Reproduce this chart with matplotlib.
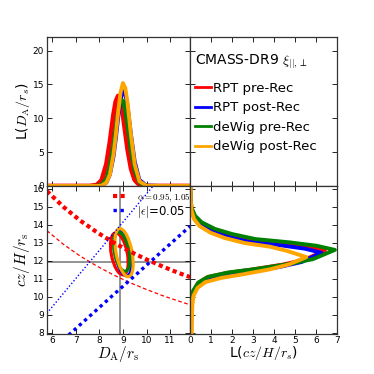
import numpy as np
import matplotlib
matplotlib.use('Agg')
import matplotlib.pyplot as plt
from matplotlib.patches import Ellipse

plt.rcParams['mathtext.fontset'] = 'cm'

# series names and colours
labels = ['RPT pre-Rec', 'RPT post-Rec', 'deWig pre-Rec', 'deWig post-Rec']
colors = ['red', 'blue', 'green', 'orange']

# fiducial values (grey cross)
da_fid = 8.86
hz_fid = 11.94

# 1D likelihood of D_A/r_s (top left panel)
da_grid = [5.78, 7.0, 7.6, 7.9, 8.1, 8.3, 8.45, 8.6, 8.7, 8.8, 8.9, 9.0,
           9.1, 9.2, 9.35, 9.5, 9.7, 10.0, 10.6, 11.85]
L_da_rpt_pre = [0, 0, 0, 0.15, 0.85, 3.2, 6.5, 10.5, 12.5, 13.3, 12.5, 10.6,
                8.0, 5.4, 2.5, 0.9, 0.15, 0, 0, 0]
L_da_rpt_post = [0, 0, 0, 0, 0.08, 0.5, 1.7, 4.3, 7.0, 10.1, 12.7, 14.0,
                 13.7, 11.7, 7.4, 3.6, 0.9, 0.05, 0, 0]
L_da_dw_pre = [0, 0, 0, 0.03, 0.2, 1.1, 3.0, 6.2, 8.8, 11.2, 12.6, 12.6,
               11.2, 8.8, 5.0, 2.2, 0.5, 0.03, 0, 0]
L_da_dw_post = [0, 0, 0, 0, 0.06, 0.5, 1.7, 4.6, 7.5, 10.9, 13.8, 15.2,
                14.5, 12.2, 7.3, 3.2, 0.7, 0.03, 0, 0]

# 1D likelihood of cz/H/r_s (bottom right panel)
hz_rpt_pre = [7.95, 9.0, 9.74, 10.29, 10.75, 11.07, 11.31, 11.5, 11.78, 12.05,
              12.56, 12.79, 12.98, 13.16, 13.44, 13.72, 14.09, 14.46, 14.92,
              15.46, 16.15]
L_hz_rpt_pre = [0.05, 0.06, 0.08, 0.15, 0.37, 0.8, 1.7, 2.9, 4.4, 5.45, 6.42,
                5.6, 4.4, 2.9, 1.86, 1.1, 0.5, 0.21, 0.06, 0.02, 0.0]
hz_rpt_post = [7.95, 9.0, 9.62, 10.17, 10.63, 10.95, 11.19, 11.38, 11.66,
               11.93, 12.44, 12.67, 12.86, 13.04, 13.32, 13.6, 13.97, 14.34,
               14.8, 15.34, 16.15]
L_hz_rpt_post = [0.03, 0.05, 0.07, 0.13, 0.35, 0.79, 1.67, 2.83, 4.29, 5.32,
                 6.26, 5.46, 4.29, 2.83, 1.81, 1.08, 0.5, 0.21, 0.05, 0.02, 0.0]
hz_dw_pre = [7.95, 9.0, 9.78, 10.33, 10.79, 11.11, 11.35, 11.54, 11.82, 12.09,
             12.6, 12.83, 13.02, 13.2, 13.48, 13.76, 14.13, 14.5, 14.96, 15.5,
             16.15]
L_hz_dw_pre = [0.03, 0.04, 0.06, 0.14, 0.39, 0.87, 1.84, 3.12, 4.73, 5.86, 6.9,
               6.02, 4.73, 3.12, 2.0, 1.19, 0.55, 0.23, 0.06, 0.02, 0.0]
hz_dw_post = [7.95, 8.7, 9.48, 10.03, 10.49, 10.81, 11.05, 11.24, 11.52, 11.79,
              12.2, 12.55, 12.78, 12.98, 13.26, 13.55, 13.92, 14.3, 14.76,
              15.3, 16.15]
L_hz_dw_post = [0.07, 0.08, 0.1, 0.15, 0.35, 0.72, 1.5, 2.5, 3.8, 4.7, 5.54,
                4.6, 3.8, 2.6, 1.65, 0.98, 0.45, 0.19, 0.07, 0.03, 0.02]

# 2D contours: centre x, centre y, width, height, angle
ell_x = [8.85, 9.0, 8.95, 9.05]
ell_y = [12.38, 12.4, 12.5, 12.45]
ell_w = [0.68, 0.66, 0.62, 0.68]
ell_h = [2.35, 2.5, 2.2, 2.7]
ell_ang = [8, 8, 8, 8]

# constant alpha curves
alpha_x = [5.78, 6.5, 7.2, 7.9, 8.6, 9.3, 10.0, 10.7, 11.4, 11.85]
alpha_hi = [15.87, 14.97, 14.22, 13.58, 13.01, 12.51, 12.07, 11.67, 11.3, 11.09]
alpha_lo = [13.67, 12.89, 12.25, 11.7, 11.21, 10.78, 10.4, 10.05, 9.74, 9.55]
# constant epsilon lines
eps_lo_x = [6.7, 7.5, 8.5, 9.5, 10.5, 11.85]
eps_lo_y = [7.87, 8.81, 9.99, 11.16, 12.34, 13.92]
eps_hi_x = [5.78, 7.0, 8.0, 9.0, 10.25]
eps_hi_y = [9.08, 11.0, 12.57, 14.14, 16.1]

L_da = [L_da_rpt_pre, L_da_rpt_post, L_da_dw_pre, L_da_dw_post]
hz_sets = [(hz_rpt_pre, L_hz_rpt_pre), (hz_rpt_post, L_hz_rpt_post),
           (hz_dw_pre, L_hz_dw_pre), (hz_dw_post, L_hz_dw_post)]

fig = plt.figure(figsize=(3.74, 3.74), dpi=100)
x0, xm, x1 = 0.125, 0.5085, 0.901
y0, ym, y1 = 0.108, 0.5027, 0.901
ax_tl = fig.add_axes([x0, ym, xm - x0, y1 - ym])
ax_tr = fig.add_axes([xm, ym, x1 - xm, y1 - ym])
ax_bl = fig.add_axes([x0, y0, xm - x0, ym - y0])
ax_br = fig.add_axes([xm, y0, x1 - xm, ym - y0])

da_lim = (5.775, 11.85)
hz_lim = (7.95, 16.15)

# top left
for i in range(4):
    ax_tl.plot(da_grid, L_da[i], color=colors[i], lw=3.4 if i == 0 else 2.8)
ax_tl.set_xlim(da_lim)
ax_tl.set_ylim(0, 22)
ax_tl.set_yticks([0, 5, 10, 15, 20])
ax_tl.set_xticks([6, 7, 8, 9, 10, 11])
ax_tl.tick_params(labelbottom=False)
ax_tl.set_ylabel(r'L($D_{\rm A}/r_s$)', fontsize=10, labelpad=0)

# top right (legend only)
ax_tr.set_xlim(0, 7)
ax_tr.set_ylim(0, 22)
ax_tr.set_yticks([0, 5, 10, 15, 20])
ax_tr.set_xticks(range(8))
ax_tr.tick_params(labelbottom=False, labelleft=False)
for i in range(4):
    ax_tr.plot([], [], color=colors[i], lw=2, label=labels[i])
ax_tr.text(0.03, 0.83, r'CMASS-DR9 $\xi_{||,\perp}$', transform=ax_tr.transAxes,
           fontsize=10, ha='left', va='center')
ax_tr.legend(loc='upper left', bbox_to_anchor=(-0.045, 0.78), frameon=False,
             fontsize=9.5, handlelength=1.15, handletextpad=0.2, labelspacing=0.5)

# bottom left
ax_bl.axvline(da_fid, color='grey', lw=1.2, zorder=1)
ax_bl.axhline(hz_fid, color='grey', lw=1.2, zorder=1)
ax_bl.plot(alpha_x, alpha_hi, color='red', lw=3, dashes=(1, 0.8),
           label=r'$\alpha=0.95,1.05$')
ax_bl.plot(alpha_x, alpha_lo, color='red', lw=0.9, dashes=(3, 2))
ax_bl.plot(eps_lo_x, eps_lo_y, color='blue', lw=2.4, dashes=(1, 1.1),
           label=r'$|\epsilon|$=0.05')
ax_bl.plot(eps_hi_x, eps_hi_y, color='blue', lw=1.0, dashes=(1, 1.5))
for i in range(4):
    ax_bl.add_patch(Ellipse((ell_x[i], ell_y[i]), ell_w[i], ell_h[i],
                            angle=ell_ang[i], fill=False, ec=colors[i], lw=2.3))
ax_bl.set_xlim(da_lim)
ax_bl.set_ylim(hz_lim)
ax_bl.set_xticks([6, 7, 8, 9, 10, 11])
ax_bl.set_yticks(range(8, 17))
ax_bl.set_xlabel(r'$D_{\rm A}/r_{\rm s}$', fontsize=11, labelpad=-1)
ax_bl.set_ylabel(r'$cz/H/r_{\rm s}$', fontsize=11, labelpad=0)
leg = ax_bl.legend(loc='upper left', bbox_to_anchor=(0.44, 0.99), frameon=False,
                   fontsize=8.5, handlelength=1.1, handletextpad=0.9,
                   labelspacing=0.0, borderaxespad=0.0, borderpad=0.3)
leg.get_texts()[0].set_fontsize(6.5)

# bottom right
for i in range(4):
    ax_br.plot(hz_sets[i][1], hz_sets[i][0], color=colors[i], lw=2.8)
ax_br.set_xlim(0, 7)
ax_br.set_ylim(hz_lim)
ax_br.set_xticks(range(8))
ax_br.set_yticks(range(8, 17))
ax_br.tick_params(labelleft=False)
ax_br.set_xlabel(r'L($cz/H/r_s$)', fontsize=10, labelpad=-1)

for ax in [ax_tl, ax_tr, ax_bl, ax_br]:
    ax.tick_params(direction='in', top=True, right=True, length=3.5,
                   width=0.6, labelsize=6.5, pad=2)
    for s in ax.spines.values():
        s.set_linewidth(0.9)
        s.set_color('#333333')

fig.savefig('out.png', dpi=100)
